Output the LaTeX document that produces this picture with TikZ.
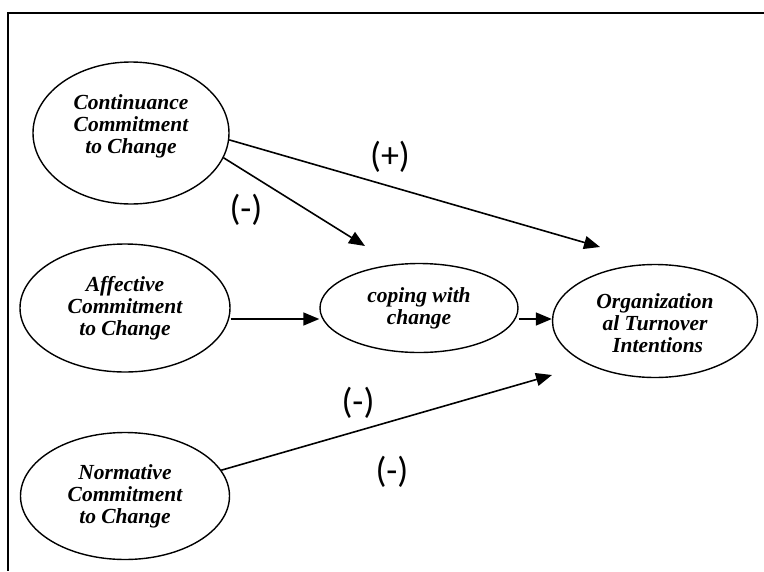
\documentclass[tikz,border=0pt]{standalone}
\usepackage{fontspec}
\setmainfont{Liberation Serif}
\newfontfamily\signfont{Carlito}
\usetikzlibrary{arrows.meta,shapes.geometric,calc}

\begin{document}
\begin{tikzpicture}[x=1pt,y=-1pt,>={Triangle[length=16pt,width=13pt]},
  construct/.style={ellipse,draw,line width=1.4pt,inner sep=0pt,align=center,
    font=\bfseries\itshape\fontsize{21.5}{22}\selectfont},
  sign/.style={font=\signfont\fontsize{36}{40}\selectfont},
  link/.style={->,line width=1.6pt}]
\useasboundingbox (0,0) rectangle (764,571);
\draw[line width=1.8pt] (764,13) -- (8,13) -- (8,571);
\node[construct,minimum width=196pt,minimum height=142pt,text depth=17pt] (cont) at (131,133) {Continuance\\Commitment\\to Change};
\node[construct,minimum width=210pt,minimum height=128pt] (aff) at (125,308) {Affective\\Commitment\\to Change};
\node[construct,minimum width=209pt,minimum height=127pt] (norm) at (125,496) {Normative\\Commitment\\to Change};
\node[construct,minimum width=198pt,minimum height=89pt] (cop) at (419,308) {coping with\\change};
\node[construct,minimum width=205pt,minimum height=113pt,text height=64pt] (org) at (655,321) {Organization\\al Turnover\\\ Intentions};
\coordinate (plusend) at (600,247);
\coordinate (minusend) at (365,246);
\coordinate (normend) at (552,375);
\draw[link] (cont.-4) -- (plusend);
\draw[link] (cont.-15) -- (minusend);
\draw[link] ([yshift=-11pt]aff.east) -- ([yshift=-11pt]cop.west);
\draw[link] ([yshift=-11pt]cop.east) -- ([yshift=-11pt]cop.east -| org.west);
\draw[link] (norm.15) -- (normend);
\node[sign] (plus) at (390,157) {(+)};
\node[sign] (minus1) at (246,210) {(-)};
\node[sign] (minus2) at (358,403) {(-)};
\node[sign] (minus3) at (392,472) {(-)};
\end{tikzpicture}
\end{document}
